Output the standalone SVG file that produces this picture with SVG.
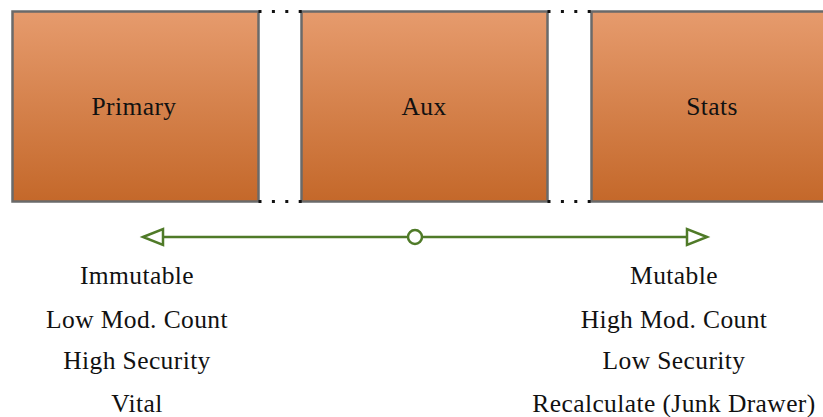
<svg xmlns="http://www.w3.org/2000/svg" width="823" height="417" viewBox="0 0 823 417">
  <style>
    .box { fill: url(#orange); stroke: #6a6a6a; stroke-width: 2.5; }
    .lbl { font-family: "Liberation Serif", "DejaVu Serif", serif; font-size: 25.5px; letter-spacing: 0.4px; fill: #111; text-anchor: middle; }
    .dots { stroke: #111; stroke-width: 3; stroke-dasharray: 3 10.4; fill: none; }
    .axis { stroke: #4f7a28; stroke-width: 2.5; fill: none; }
    .head { stroke: #4f7a28; stroke-width: 2.5; fill: #fff; stroke-linejoin: miter; }
  </style>
  <defs>
    <linearGradient id="orange" x1="0" y1="0" x2="0" y2="1">
      <stop offset="0" stop-color="#e69b6d"/>
      <stop offset="1" stop-color="#c4682a"/>
    </linearGradient>
  </defs>

  <g id="primary">
    <rect class="box" x="12.5" y="11.5" width="246" height="190"/>
    <text class="lbl" x="134" y="115">Primary</text>
  </g>
  <g id="aux">
    <rect class="box" x="301.5" y="11.5" width="246" height="190"/>
    <text class="lbl" x="424" y="115">Aux</text>
  </g>
  <g id="stats">
    <rect class="box" x="591.5" y="11.5" width="246" height="190"/>
    <text class="lbl" x="712" y="115">Stats</text>
  </g>

  <g id="connectors">
    <line class="dots" x1="258.5" y1="11.5" x2="303" y2="11.5"/>
    <line class="dots" x1="258.5" y1="201.5" x2="303" y2="201.5"/>
    <line class="dots" x1="547.5" y1="11.5" x2="592" y2="11.5"/>
    <line class="dots" x1="547.5" y1="201.5" x2="592" y2="201.5"/>
    <line class="axis" x1="163" y1="237" x2="408" y2="237"/>
    <line class="axis" x1="422" y1="237" x2="687" y2="237"/>
    <polygon class="head" points="143,237 163,229 163,245"/>
    <polygon class="head" points="707,237 687,229 687,245"/>
    <circle class="head" cx="415" cy="237" r="7"/>
  </g>

  <g id="left-traits">
    <text class="lbl" x="137" y="284">Immutable</text>
    <text class="lbl" x="137" y="328">Low Mod. Count</text>
    <text class="lbl" x="137" y="369">High Security</text>
    <text class="lbl" x="137" y="412">Vital</text>
  </g>
  <g id="right-traits">
    <text class="lbl" x="674" y="284">Mutable</text>
    <text class="lbl" x="674" y="328">High Mod. Count</text>
    <text class="lbl" x="674" y="369">Low Security</text>
    <text class="lbl" x="674" y="412">Recalculate (Junk Drawer)</text>
  </g>
</svg>
